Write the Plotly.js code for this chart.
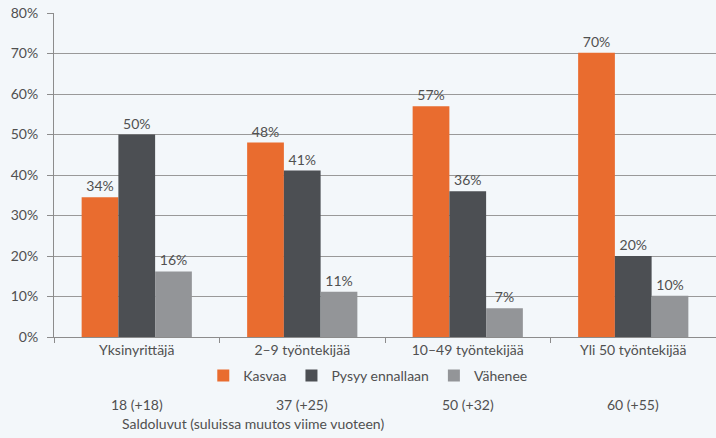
<!DOCTYPE html>
<html><head><meta charset="utf-8">
<script src="https://cdn.plot.ly/plotly-3.0.1.min.js"></script>
<style>html,body{margin:0;padding:0;background:#f3f7fa;}#chart{width:716px;height:438px;}</style>
</head><body><div id="chart"></div>
<script>
const categories = ["Yksinyrittäjä", "2–9 työntekijää", "10–49 työntekijää", "Yli 50 työntekijää"];
const kasvaa = [34.5, 48, 57, 70.2];
const pysyy = [50, 41.1, 36, 20];
const vahenee = [16.2, 11.2, 7.1, 10.2];
const kasvaaLabels = ["34%", "48%", "57%", "70%"];
const pysyyLabels = ["50%", "41%", "36%", "20%"];
const vaheneeLabels = ["16%", "11%", "7%", "10%"];
const saldo = ["18 (+18)", "37 (+25)", "50 (+32)", "60 (+55)"];
const saldoNote = "Saldoluvut (suluissa muutos viime vuoteen)";
const yTicks = [0, 10, 20, 30, 40, 50, 60, 70, 80];

const font = {family: "Lato, 'Open Sans', sans-serif", size: 14, color: "#505050"};
function tr(name, y, labels, color) {
  return {type: "bar", name: name, x: categories, y: y, text: labels,
    textposition: "outside", textfont: font, cliponaxis: false,
    marker: {color: color, line: {width: 0}}, hoverinfo: "skip"};
}
const data = [
  tr("Kasvaa", kasvaa, kasvaaLabels, "#e96c2f"),
  tr("Pysyy ennallaan", pysyy, pysyyLabels, "#4c4f53"),
  tr("Vähenee", vahenee, vaheneeLabels, "#939598")
];
const annotations = saldo.map((s, i) => ({x: categories[i], xref: "x", y: -0.207, yref: "paper",
  text: s, showarrow: false, font: font, yanchor: "middle"}));
annotations.push({x: 0.1, xref: "paper", y: -0.268, yref: "paper", text: saldoNote,
  showarrow: false, font: font, xanchor: "left", yanchor: "middle"});
const layout = {
  width: 716, height: 438,
  margin: {l: 54, r: 0, t: 13, b: 101},
  paper_bgcolor: "#f3f7fa", plot_bgcolor: "#f3f7fa",
  font: font,
  barmode: "group", bargap: 0.334, bargroupgap: 0,
  showlegend: true,
  legend: {orientation: "h", x: 0.474, xanchor: "center", y: -0.12, yanchor: "middle",
    font: font, bgcolor: "rgba(0,0,0,0)", itemwidth: 30, tracegroupgap: 0},
  xaxis: {type: "category", showline: true, linecolor: "#8c8c8c", linewidth: 1,
    ticks: "outside", tickson: "boundaries", ticklen: 5, tickcolor: "#8c8c8c",
    tickfont: font, showgrid: false, zeroline: false, fixedrange: true},
  yaxis: {range: [0, 80], tickvals: yTicks, ticktext: yTicks.map(v => v + "%"),
    showline: true, linecolor: "#8c8c8c", linewidth: 1, ticks: "outside", ticklen: 6,
    tickcolor: "#8c8c8c", showgrid: true, gridcolor: "#999999", gridwidth: 1,
    zeroline: false, tickfont: font, ticklabelstandoff: 6, fixedrange: true},
  annotations: annotations
};
Plotly.newPlot("chart", data, layout, {displayModeBar: false, staticPlot: true});
</script></body></html>
